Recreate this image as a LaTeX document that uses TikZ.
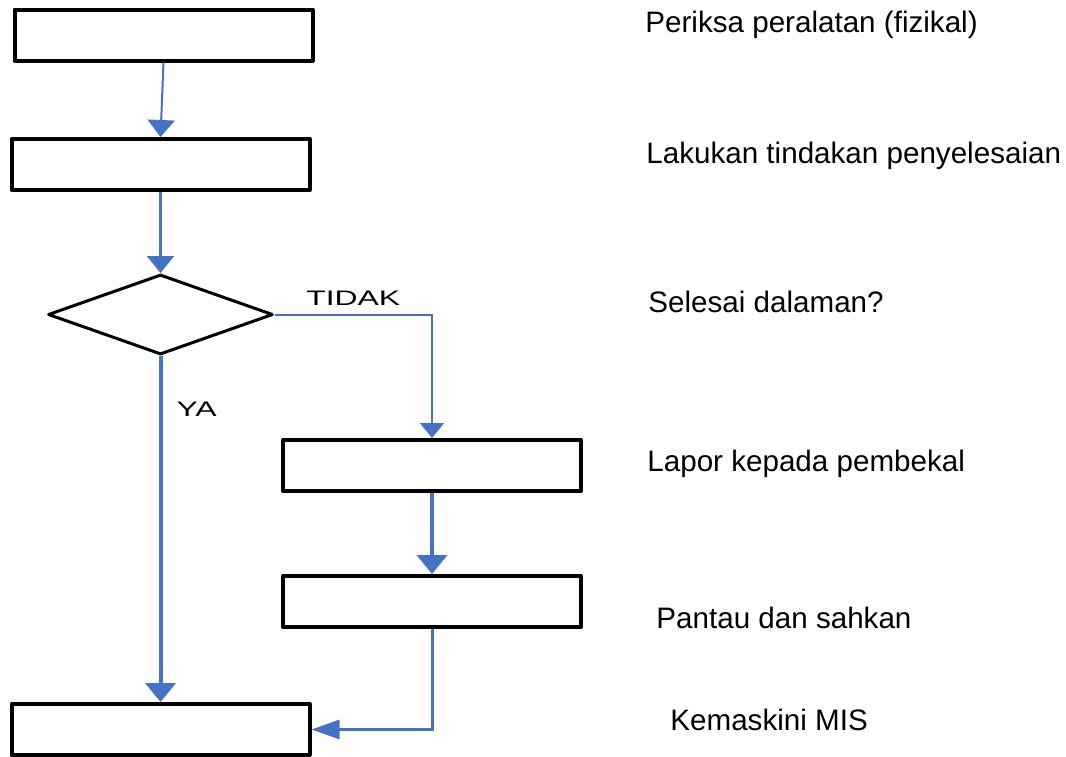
\documentclass[tikz,border=0pt]{standalone}
\usepackage{fontspec}
\setmainfont{Liberation Sans}
\usetikzlibrary{arrows.meta,shapes.geometric}
\definecolor{flowblue}{HTML}{4472C4}
\newcommand{\branchtext}[1]{\scalebox{1.52}[1]{#1}}
\tikzset{
  procbox/.style={
    draw=black,
    line width=2pt,
    line join=round,
    minimum width=149pt,
    minimum height=25.5pt,
    inner sep=0pt
  },
  decision/.style={
    diamond,
    draw=black,
    line width=1.5pt,
    line join=round,
    minimum width=112.5pt,
    minimum height=40pt,
    inner sep=0pt
  },
  flowline/.style={
    -{Triangle[length=8.5pt,width=13.5pt]},
    line width=1pt,
    draw=flowblue
  },
  flowthick/.style={
    -{Triangle[length=9.5pt,width=15pt]},
    line width=2pt,
    draw=flowblue
  },
  sidenote/.style={
    anchor=base west,
    inner sep=0pt,
    font=\fontsize{14.8}{17}\selectfont
  },
  branchlabel/.style={
    inner sep=0pt,
    font=\fontsize{10.5}{12}\selectfont
  }
}

\begin{document}
\begin{tikzpicture}[x=0.5pt, y=-0.5pt]
    \useasboundingbox (0,0) rectangle (1066,756);

    % flow boxes
    \node[procbox] (periksa) at (163.5,35) {};
    \node[procbox] (lakukan) at (160.5,164.5) {};
    \node[decision] (selesai) at (160.5,314.5) {};
    \node[procbox] (lapor) at (432,465.5) {};
    \node[procbox] (pantau) at (432,601.5) {};
    \node[procbox] (kemaskini) at (160.5,729.5) {};

    % steps written beside the chart
    \node[sidenote] (notePeriksa) at (645,32) {Periksa peralatan (fizikal)};
    \node[sidenote] (noteLakukan) at (646,163) {Lakukan tindakan penyelesaian};
    \node[sidenote] (noteSelesai) at (648,312) {Selesai dalaman?};
    \node[sidenote] (noteLapor) at (647,471) {Lapor kepada pembekal};
    \node[sidenote] (notePantau) at (656,628) {Pantau dan sahkan};
    \node[sidenote] (noteKemaskini) at (670,730) {Kemaskini MIS};

    \draw[flowline] (periksa.south) -- (lakukan.north);
    \draw[flowline, line width=1.2pt] (lakukan.south) -- (selesai.north);
    \draw[flowline, -{Triangle[length=7.5pt,width=12pt]}] (selesai.east) -| node[branchlabel, pos=0.25, above=4pt]{\branchtext{TIDAK}} (lapor.north);
    \draw[flowthick] (selesai.south) -- node[branchlabel, pos=0.155, right=7pt]{\branchtext{YA}} (kemaskini.north);
    \draw[flowthick] (lapor.south) -- (pantau.north);
    \draw[flowline, line width=1.5pt, -{Triangle[length=14pt,width=9.5pt]}] (pantau.south) |- (kemaskini.east);
\end{tikzpicture}
\end{document}
